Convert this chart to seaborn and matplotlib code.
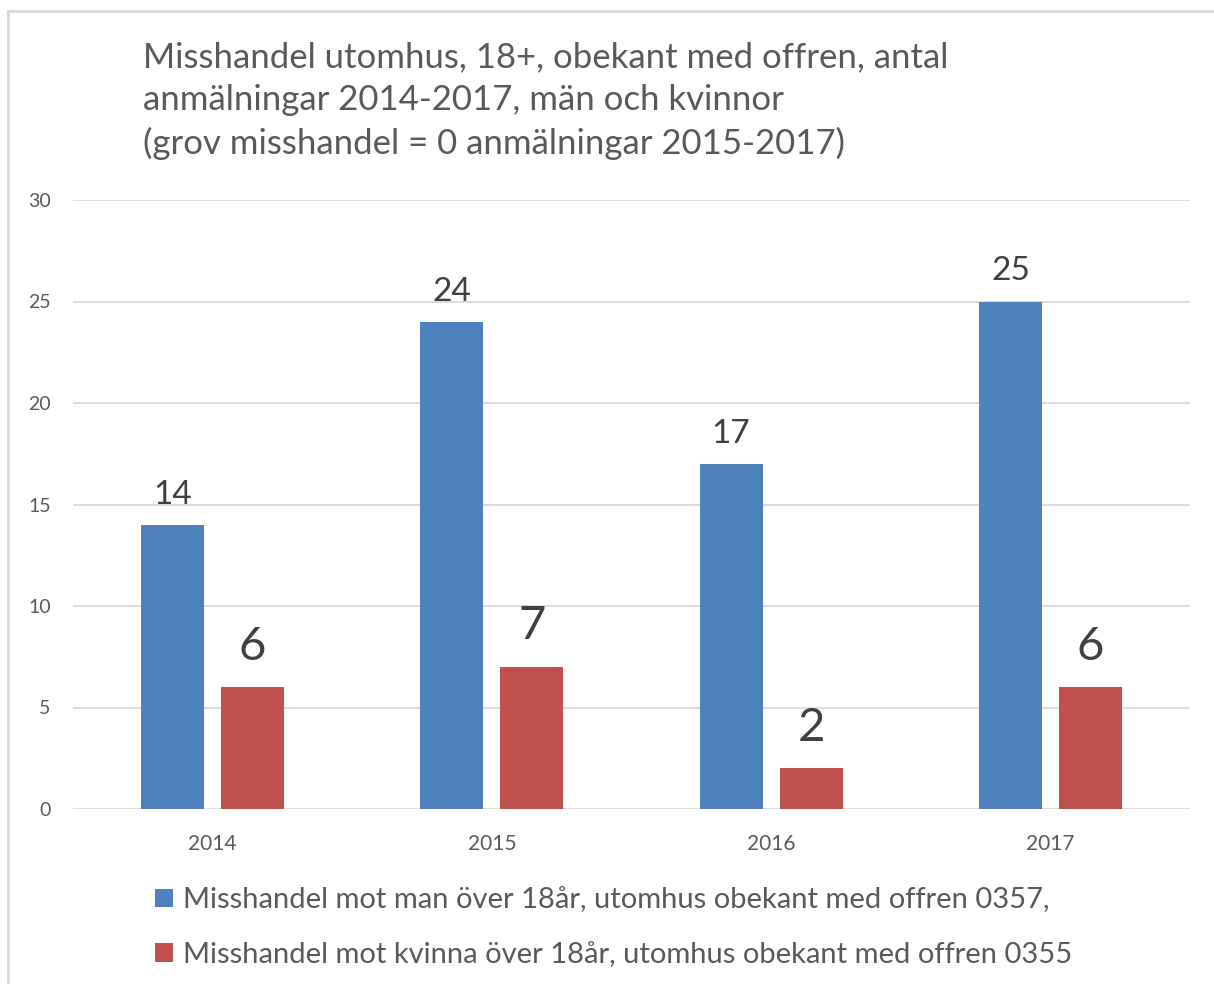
"""Misshandel utomhus - grouped bar chart"""
import seaborn as sns
import matplotlib.pyplot as plt
import pandas as pd
from matplotlib.lines import Line2D

years = ['2014', '2015', '2016', '2017']
men = [14, 24, 17, 25]
women = [6, 7, 2, 6]
series = ['Misshandel mot man över 18år, utomhus obekant med offren 0357,',
          'Misshandel mot kvinna över 18år, utomhus obekant med offren 0355']
colors = ['#4F81BD', '#C0504D']
title = ('Misshandel utomhus, 18+, obekant med offren, antal\n'
         'anmälningar 2014-2017, män och kvinnor\n'
         '(grov misshandel = 0 anmälningar 2015-2017)')

df = pd.DataFrame({
    'year': years * 2,
    'antal': men + women,
    'serie': [series[0]] * len(years) + [series[1]] * len(years),
})

sns.set_theme(style='white')
plt.rcParams['font.family'] = ['Lato', 'DejaVu Sans']

W, H = 1214, 984
fig = plt.figure(figsize=(W / 100, H / 100), dpi=100)
ax = fig.add_axes([73 / W, 1 - 809 / H, (1190 - 73) / W, (809 - 200) / H])

sns.barplot(data=df, x='year', y='antal', hue='serie', palette=colors,
            saturation=1, width=0.573, gap=0.21, linewidth=0, ax=ax)

ax.set_ylim(0, 30)
ax.set_xlim(-0.5, 3.5)
ax.set_yticks(range(0, 31, 5))
ax.yaxis.grid(True, color='#D9D9D9', linewidth=1.3)
ax.set_axisbelow(True)
for s in ax.spines.values():
    s.set_visible(False)
ax.set_xlabel('')
ax.set_ylabel('')
ax.tick_params(axis='y', length=0, pad=16, labelsize=14, labelcolor='#595959')
ax.tick_params(axis='x', length=0, pad=18, labelsize=15, labelcolor='#595959')

ax.bar_label(ax.containers[0], fontsize=24, color='#404040', padding=11)
ax.bar_label(ax.containers[1], fontsize=34, color='#404040', padding=14)

handles, labels = ax.get_legend_handles_labels()
ax.get_legend().remove()
fig.legend(handles, labels, loc='upper left', bbox_to_anchor=(129 / W, 1 - 861 / H),
           frameon=False, fontsize=21, handlelength=0.62, handleheight=0.62,
           handletextpad=0.32, labelspacing=0.98, labelcolor='#595959')

fig.text(143 / W, 1 - 41 / H, title, ha='left', va='top', fontsize=25,
         color='#595959', linespacing=1.42)

# light frame (top and left edges visible)
fig.add_artist(Line2D([8 / W, 1], [1 - 11 / H, 1 - 11 / H], color='#D9D9D9', lw=2))
fig.add_artist(Line2D([8 / W, 8 / W], [0, 1 - 11 / H], color='#D9D9D9', lw=2))

fig.savefig('out.png', dpi=100)
plt.close(fig)
